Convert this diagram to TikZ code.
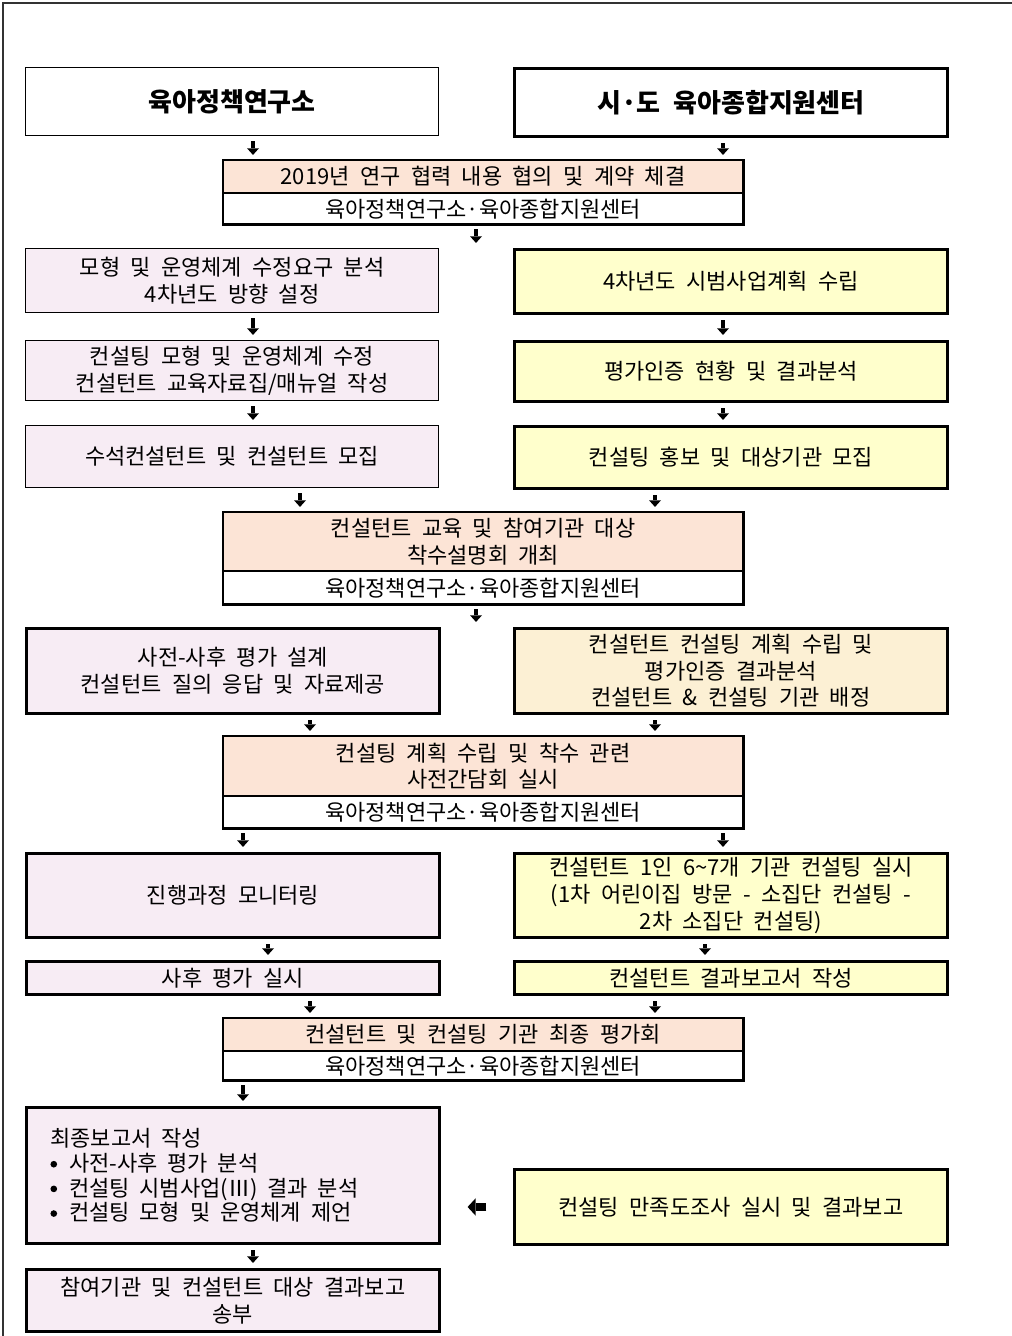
\documentclass[tikz,border=0pt]{standalone}
\usepackage{fontspec}
\setmainfont{Noto Sans CJK KR}[WordSpace=2.1]
\usetikzlibrary{arrows.meta}
\definecolor{peach}{RGB}{252,228,214}
\definecolor{pinkbox}{RGB}{247,236,244}
\definecolor{yellowbox}{RGB}{255,255,204}
\definecolor{beigebox}{RGB}{252,240,212}
\newcommand{\bul}{\tikz[baseline=-0.6ex]\fill (0,0) circle (2.5pt);\hspace{9pt}}
\begin{document}
\begin{tikzpicture}[x=0.75pt,y=-0.75pt,
    box/.style={draw,line width=2.2pt,anchor=north west,align=center,inner sep=2pt,
      font=\fontsize{16.5}{20}\selectfont},
    thinbox/.style={box,line width=0.9pt},
    lcol/.style={minimum width=309.75pt,fill=pinkbox},
    rcol/.style={minimum width=324.75pt,fill=yellowbox},
    jtop/.style={box,line width=0.9pt,minimum width=389.25pt,fill=peach},
    jbot/.style={box,line width=0.9pt,minimum width=389.25pt,fill=white},
    arr/.style={line width=2.3pt,-{Triangle[length=5pt,width=9pt,line width=0pt]},
      shorten <=3.8pt,shorten >=3.8pt},
    bigarr/.style={line width=6pt,-{Triangle[length=6pt,width=13pt,line width=0pt]},
      shorten <=20pt,shorten >=20pt}]
  \useasboundingbox (0,0) rectangle (1012,1336);
  \draw[line width=1.5pt,black!80] (1012,3) -- (3,3) -- (3,1336);
  % heads
  \node[thinbox,lcol,fill=white,minimum height=51pt,font=\fontsize{19.5}{22}\selectfont\bfseries] (h1) at (25,67) {육아정책연구소};
  \node[box,rcol,fill=white,minimum height=51pt,font=\fontsize{19.5}{22}\selectfont\bfseries] (h2) at (513,67) {시·도 육아종합지원센터};
  % joint 1
  \node[jtop,minimum height=24pt] (j1a) at (223,160) {2019년 연구 협력 내용 협의 및 계약 체결};
  \node[jbot,minimum height=22.5pt] (j1b) at (j1a.south west) {육아정책연구소·육아종합지원센터};
  \draw[line width=2.2pt] (j1a.north west) rectangle (j1b.south east);
  % rows 2-4
  \node[thinbox,lcol,minimum height=48pt] (l2) at (25,248) {모형 및 운영체계 수정요구 분석\\4차년도 방향 설정};
  \node[box,rcol,minimum height=48pt] (r2) at (513,248) {4차년도 시범사업계획 수립};
  \node[thinbox,lcol,minimum height=45pt] (l3) at (25,340) {컨설팅 모형 및 운영체계 수정\\컨설턴트 교육자료집/매뉴얼 작성};
  \node[box,rcol,minimum height=45pt] (r3) at (513,340) {평가인증 현황 및 결과분석};
  \node[thinbox,lcol,minimum height=46.5pt] (l4) at (25,425) {수석컨설턴트 및 컨설턴트 모집};
  \node[box,rcol,minimum height=46.5pt] (r4) at (513,425) {컨설팅 홍보 및 대상기관 모집};
  % joint 2
  \node[jtop,minimum height=43.5pt] (j2a) at (223,512) {컨설턴트 교육 및 참여기관 대상\\착수설명회 개최};
  \node[jbot,minimum height=24pt] (j2b) at (j2a.south west) {육아정책연구소·육아종합지원센터};
  \draw[line width=2.2pt] (j2a.north west) rectangle (j2b.south east);
  % row 5
  \node[box,lcol,minimum height=63.75pt] (l5) at (25,627) {사전-사후 평가 설계\\컨설턴트 질의 응답 및 자료제공};
  \node[box,rcol,fill=beigebox,minimum height=63.75pt] (r5) at (513,627) {컨설턴트 컨설팅 계획 수립 및\\평가인증 결과분석\\컨설턴트 \& 컨설팅 기관 배정};
  % joint 3
  \node[jtop,minimum height=44.25pt] (j3a) at (223,736) {컨설팅 계획 수립 및 착수 관련\\사전간담회 실시};
  \node[jbot,minimum height=23.25pt] (j3b) at (j3a.south west) {육아정책연구소·육아종합지원센터};
  \draw[line width=2.2pt] (j3a.north west) rectangle (j3b.south east);
  % rows 6-7
  \node[box,lcol,minimum height=63pt] (l6) at (25,852) {진행과정 모니터링};
  \node[box,rcol,minimum height=63pt] (r6) at (513,852) {컨설턴트 1인 6\textasciitilde7개 기관 컨설팅 실시\\(1차 어린이집 방문 - 소집단 컨설팅 -\\2차 소집단 컨설팅)};
  \node[box,lcol,minimum height=24.75pt] (l7) at (25,960) {사후 평가 실시};
  \node[box,rcol,minimum height=24.75pt] (r7) at (513,960) {컨설턴트 결과보고서 작성};
  % joint 4
  \node[jtop,minimum height=24pt] (j4a) at (223,1018) {컨설턴트 및 컨설팅 기관 최종 평가회};
  \node[jbot,minimum height=21pt] (j4b) at (j4a.south west) {육아정책연구소·육아종합지원센터};
  \draw[line width=2.2pt] (j4a.north west) rectangle (j4b.south east);
  % last rows
  \node[box,lcol,minimum height=102pt,text width=273.75pt,inner xsep=18pt,align=left,
    font=\fontsize{16.5}{18.5}\selectfont] (l8) at (25,1106)
    {\spaceskip=0.45em\relax 최종보고서 작성\\\bul 사전-사후 평가 분석\\\bul 컨설팅 시범사업(Ⅲ) 결과 분석\\\bul 컨설팅 모형 및 운영체계 제언};
  \node[box,rcol,minimum height=56.25pt] (r8) at (513,1168) {컨설팅 만족도조사 실시 및 결과보고};
  \node[box,lcol,minimum height=46.5pt] (l9) at (25,1268) {참여기관 및 컨설턴트 대상 결과보고\\송부};
  % arrows
  \draw[arr] (253,0 |- h1.south) -- (253,0 |- j1a.north);
  \draw[arr] (723,0 |- h2.south) -- (723,0 |- j1a.north);
  \draw[arr] (476,0 |- j1b.south) -- (476,0 |- l2.north);
  \draw[arr] (253,0 |- l2.south) -- (253,0 |- l3.north);
  \draw[arr] (723,0 |- r2.south) -- (723,0 |- r3.north);
  \draw[arr] (253,0 |- l3.south) -- (253,0 |- l4.north);
  \draw[arr] (723,0 |- r3.south) -- (723,0 |- r4.north);
  \draw[arr] (300,0 |- l4.south) -- (300,0 |- j2a.north);
  \draw[arr] (655,0 |- r4.south) -- (655,0 |- j2a.north);
  \draw[arr] (476,0 |- j2b.south) -- (476,0 |- l5.north);
  \draw[arr] (310,0 |- l5.south) -- (310,0 |- j3a.north);
  \draw[arr] (655,0 |- r5.south) -- (655,0 |- j3a.north);
  \draw[arr] (243,0 |- j3b.south) -- (243,0 |- l6.north);
  \draw[arr] (723,0 |- j3b.south) -- (723,0 |- r6.north);
  \draw[arr] (268,0 |- l6.south) -- (268,0 |- l7.north);
  \draw[arr] (705,0 |- r6.south) -- (705,0 |- r7.north);
  \draw[arr] (310,0 |- l7.south) -- (310,0 |- j4a.north);
  \draw[arr] (655,0 |- r7.south) -- (655,0 |- j4a.north);
  \draw[arr] (243,0 |- j4b.south) -- (243,0 |- l8.north);
  \draw[arr] (253,0 |- l8.south) -- (253,0 |- l9.north);
  \draw[bigarr] (r8.west) -- (r8.west -| l8.east);
\end{tikzpicture}
\end{document}
